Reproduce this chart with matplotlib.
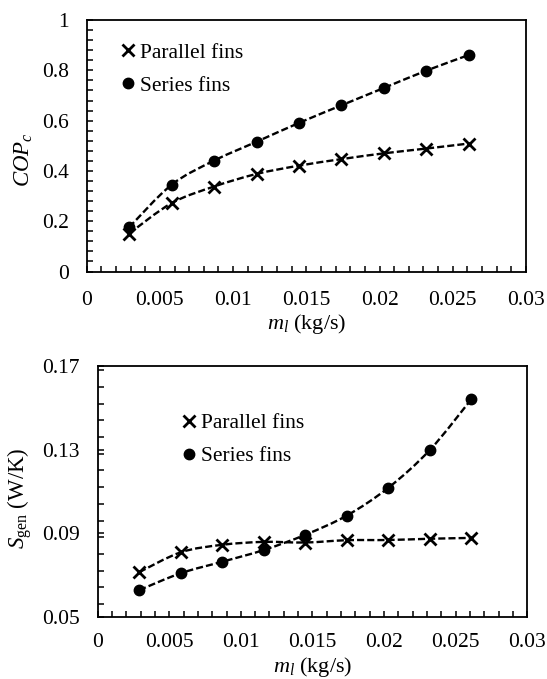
import numpy as np
import matplotlib
matplotlib.use("Agg")
import matplotlib.pyplot as plt
from matplotlib.path import Path
from matplotlib.patches import PathPatch
from matplotlib.lines import Line2D
from matplotlib.ticker import MultipleLocator

plt.rcParams['font.family'] = ['Liberation Serif', 'DejaVu Serif']
plt.rcParams['mathtext.fontset'] = 'custom'
plt.rcParams['mathtext.rm'] = 'Liberation Serif'
plt.rcParams['mathtext.it'] = 'Liberation Serif:italic'

## data
m_l = [0.0029, 0.0058, 0.0087, 0.0116, 0.0145, 0.0174, 0.0203, 0.0232, 0.0261]
cop_parallel = [0.151, 0.272, 0.338, 0.388, 0.421, 0.447, 0.470, 0.489, 0.509]
cop_series = [0.176, 0.345, 0.441, 0.516, 0.591, 0.661, 0.730, 0.799, 0.861]
sgen_parallel = [0.0713, 0.0808, 0.0844, 0.0858, 0.0855, 0.0866, 0.0867, 0.0873, 0.0877]
sgen_series = [0.0627, 0.0708, 0.0763, 0.0819, 0.0892, 0.0984, 0.1117, 0.1298, 0.1541]
labels = ['Parallel fins', 'Series fins']
xticks = [0, 0.005, 0.01, 0.015, 0.02, 0.025, 0.03]
xticklabels = ['0', '0.005', '0.01', '0.015', '0.02', '0.025', '0.03']

FS = 15.5


def smooth_path(x, y):
    '''Excel style smoothed line (catmull-rom as bezier)'''
    p = np.column_stack([x, y])
    n = len(p)
    verts = [p[0]]
    codes = [Path.MOVETO]
    for i in range(n - 1):
        p0 = p[i - 1] if i > 0 else p[i]
        p3 = p[i + 2] if i + 2 < n else p[i + 1]
        c1 = p[i] + (p[i + 1] - p0) / 6.0
        c2 = p[i + 1] - (p3 - p[i]) / 6.0
        verts += [c1, c2, p[i + 1]]
        codes += [Path.CURVE4] * 3
    return Path(verts, codes)


def draw(ax, ypar, yser, label_y, xpad):
    for yy in (ypar, yser):
        ax.add_patch(PathPatch(smooth_path(m_l, yy), fill=False, ec='black',
                               lw=1.7, ls=(0, (3, 1.3)), zorder=2))
    ax.plot(m_l, ypar, ls='none', marker='x', ms=9, mew=2, color='black', zorder=3)
    ax.plot(m_l, yser, ls='none', marker='o', ms=7.5, color='black', zorder=3)
    ax.set_xlim(0, 0.03)
    ax.set_xticks(xticks)
    ax.set_xticklabels(xticklabels)
    ax.xaxis.set_minor_locator(MultipleLocator(0.001))
    ax.tick_params(which='both', direction='in', labelsize=FS, length=4, width=1.1,
                   top=False, right=False)
    ax.tick_params(axis='x', pad=xpad)
    ax.tick_params(axis='y', pad=13)
    for s in ax.spines.values():
        s.set_linewidth(1.3)
    ax.set_xlabel(r'$m_l$ (kg/s)', fontsize=16)
    ax.xaxis.set_label_coords(0.5, label_y)


def add_legend(ax, loc):
    h = [Line2D([], [], ls='none', marker='x', ms=9, mew=2, color='black'),
         Line2D([], [], ls='none', marker='o', ms=7.5, color='black')]
    ax.legend(h, labels, loc='center left', bbox_to_anchor=loc, frameon=False,
              fontsize=FS, handlelength=0.5, handletextpad=0.3, labelspacing=0.6,
              borderaxespad=0, borderpad=0)


fig = plt.figure(figsize=(5.47, 6.79), dpi=100)

ax1 = fig.add_axes([0.1585, 0.6001, 0.8031, 0.3704])
draw(ax1, cop_parallel, cop_series, -0.16, 14)
ax1.set_ylim(0, 1)
ax1.set_yticks([0, 0.2, 0.4, 0.6, 0.8, 1.0])
ax1.set_yticklabels(['0', '0.2', '0.4', '0.6', '0.8', '1'])
ax1.yaxis.set_minor_locator(MultipleLocator(0.04))
add_legend(ax1, (0.082, 0.805))
fig.text(24 / 547, 1 - 160 / 679, r'$COP_c$', rotation=90, ha='center', va='center',
         fontsize=16.5)

ax2 = fig.add_axes([0.1786, 0.0918, 0.7852, 0.3692])
draw(ax2, sgen_parallel, sgen_series, -0.153, 11.5)
ax2.set_ylim(0.05, 0.17)
ax2.set_yticks([0.05, 0.09, 0.13, 0.17])
ax2.set_yticklabels(['0.05', '0.09', '0.13', '0.17'])
ax2.yaxis.set_minor_locator(MultipleLocator(0.008))
add_legend(ax2, (0.2, 0.705))
fig.text(20 / 547, 1 - 498 / 679, r'$S_{\mathrm{gen}}$ (W/K)', rotation=90, ha='center',
         va='center', fontsize=16.5)

fig.savefig('out.png', dpi=100)
